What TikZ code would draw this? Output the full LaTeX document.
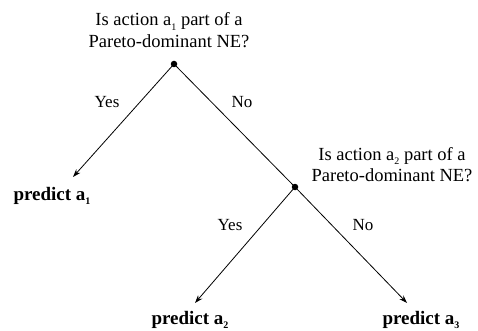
\documentclass[tikz,border=0pt]{standalone}
\usepackage{fontspec}
\setmainfont{Liberation Serif}
\usetikzlibrary{arrows.meta}
% small lowered index used after the action letter
\newcommand\lowsub[1]{\raisebox{-0.5ex}{\fontsize{10}{10}\selectfont #1}}
\begin{document}
\begin{tikzpicture}[x=1pt,y=-1pt,
  question/.style={font=\fontsize{18.5}{22}\selectfont, anchor=base, inner sep=0},
  answer/.style={font=\fontsize{17}{20}\selectfont, inner sep=0},
  outcome/.style={font=\fontsize{19}{22}\selectfont\bfseries, inner sep=0},
  dot/.style={circle, fill, inner sep=0, minimum size=6.5pt},
  branch/.style={line width=0.8pt, -{Stealth[length=8pt,width=5.5pt]}},
  edge/.style={line width=0.8pt}]
\useasboundingbox (0,0) rectangle (478,331);

% decision points
\node[dot] (root) at (174,64) {};
\node[dot] (second) at (295,187) {};

% questions
\node[question] (q1a) at (169,26) {Is action a\lowsub{1} part of a};
\node[question] (q1b) at (169,48) {Pareto-dominant NE?};
\node[question] (q2a) at (392,160) {Is action a\lowsub{2} part of a};
\node[question] (q2b) at (392,181) {Pareto-dominant NE?};

% outcomes and arrow tips
\node[outcome] (p1) at (52,196) {predict a\lowsub{1}};
\node[outcome] (p2) at (190,320) {predict a\lowsub{2}};
\node[outcome] (p3) at (421,320) {predict a\lowsub{3}};
\coordinate (t1) at (73,177);
\coordinate (t2) at (195,303);
\coordinate (t3) at (407,303);

% branches
\draw[branch] (root.center) -- (t1);
\draw[edge] (root.center) -- (second.center);
\draw[branch] (second.center) -- (t2);
\draw[branch] (second.center) -- (t3);

% branch labels
\node[answer] (y1) at (107,102) {Yes};
\node[answer] (n1) at (242,102) {No};
\node[answer] (y2) at (230,225) {Yes};
\node[answer] (n2) at (363,225) {No};
\end{tikzpicture}
\end{document}
